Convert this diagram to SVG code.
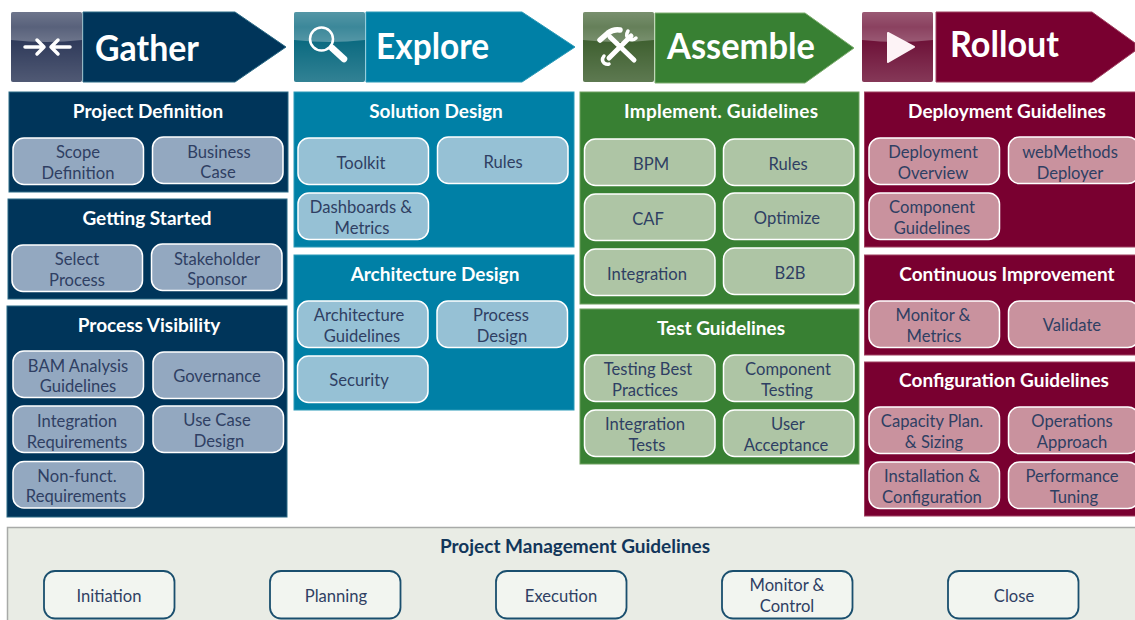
<svg xmlns="http://www.w3.org/2000/svg" width="1135" height="620" viewBox="0 0 1135 620">
<style>
text{font-family:"Lato","Noto Sans",sans-serif;text-anchor:middle}
.t{font-size:36px;font-weight:700;fill:#fff;text-anchor:start}
.h{font-size:19px;font-weight:700;fill:#fff}
.n{font-size:16.6px;fill:#2f3f63}
.nd{rx:11px;ry:11px;width:130.5px;height:46.5px;stroke:#fff;stroke-width:1.5px}
.b .nd{fill:#93a8c0}.e .nd{fill:#96c1d5}.g .nd{fill:#aec5a5}.r .nd{fill:#c9929e}
.p .nd{fill:#f2f5f0;stroke:#1a4f6e;stroke-width:1.8px;height:47.5px}
rect.pb{stroke:#2a6a85;stroke-width:1;fill:#00355a}
.e rect.pb{stroke:#2a9ab8;fill:#0080a6}
.g rect.pb{stroke:#6fa060;fill:#388033}
.r rect.pb{stroke:#a04060;fill:#790030}
.gl{fill:url(#gloss)}
.sh{fill:url(#shade)}
.ic{stroke:#fff;fill:none;stroke-linecap:round;stroke-linejoin:round}
</style>
<defs>
<linearGradient id="gloss" x1="0" y1="0" x2="0" y2="1"><stop offset="0" stop-color="#fff" stop-opacity=".3"/><stop offset=".5" stop-color="#fff" stop-opacity=".2"/><stop offset="1" stop-color="#fff" stop-opacity=".3"/></linearGradient>
<linearGradient id="shade" x1="0" y1="0" x2="0" y2="1"><stop offset="0" stop-color="#fff" stop-opacity="0"/><stop offset="1" stop-color="#fff" stop-opacity=".16"/></linearGradient>
</defs>

<g id="phase-gather">
<rect x="11" y="12" width="71" height="70" rx="2" fill="#2f3a5a"/>
<rect class="sh" x="11" y="40" width="71" height="42" rx="2"/>
<path class="gl" d="M11 14a2 2 0 0 1 2-2h67a2 2 0 0 1 2 2v26q-35 4 -71 0z"/>
<path class="ic" stroke-width="3.5" d="M25 47h19M37 40l7 7-7 7M70 47h-19M58 40l-7 7 7 7"/>
<polygon points="83,12 235,12 286,47 235,82 83,82" fill="#00355a" stroke="#2a6a85"/>
<text class="t" x="95" y="61" textLength="104" lengthAdjust="spacingAndGlyphs">Gather</text>
</g>
<g id="phase-explore">
<rect x="294" y="12" width="71" height="70" rx="2" fill="#0b6a80"/>
<rect class="sh" x="294" y="40" width="71" height="42" rx="2"/>
<path class="gl" d="M294 14a2 2 0 0 1 2-2h67a2 2 0 0 1 2 2v26q-35 4 -71 0z"/>
<circle class="ic" cx="321.500" cy="39" r="11.500" stroke="#b5dbe2" stroke-width="2.500"/>
<path class="ic" stroke="#e8f3f3" stroke-width="6.500" d="M332 48l12 11"/>
<polygon points="366,12 522,12 575,47 522,82 366,82" fill="#0080a6" stroke="#2a9ab8"/>
<text class="t" x="376" y="59" textLength="113" lengthAdjust="spacingAndGlyphs">Explore</text>
</g>
<g id="phase-assemble">
<rect x="583" y="12" width="71" height="70" rx="2" fill="#3f6030"/>
<rect class="sh" x="583" y="40" width="71" height="42" rx="2"/>
<path class="gl" d="M583 14a2 2 0 0 1 2-2h67a2 2 0 0 1 2 2v26q-35 4 -71 0z"/>
<path class="ic" stroke="#eef4e8" stroke-width="5" d="M610 37l24 23M631 36l-22 22"/>
<path class="ic" stroke="#eef4e8" stroke-width="5.500" d="M600 40l8 -7q5 -4 12 -3"/>
<path class="ic" stroke="#eef4e8" stroke-width="3.500" d="M628 31q-3 5 1 8q4 2 7 -1M604 56q-3 4 0 7q3 2 5 1"/>
<polygon points="655,13 805,13 854,48 805,83 655,83" fill="#388033" stroke="#7fae70"/>
<text class="t" x="667" y="59" textLength="148" lengthAdjust="spacingAndGlyphs">Assemble</text>
</g>
<g id="phase-rollout">
<rect x="862" y="12" width="71" height="70" rx="2" fill="#6e1238"/>
<rect class="sh" x="862" y="40" width="71" height="42" rx="2"/>
<path class="gl" d="M862 14a2 2 0 0 1 2-2h67a2 2 0 0 1 2 2v26q-35 4 -71 0z"/>
<polygon points="888,33 914,47 888,62" fill="#fdf3f6" stroke="#fdf3f6" stroke-width="2" stroke-linejoin="round"/>
<polygon points="936,12 1092,12 1135,43 1135,51 1092,82 936,82" fill="#790030" stroke="#a04060"/>
<text class="t" x="950" y="57" textLength="109" lengthAdjust="spacingAndGlyphs">Rollout</text>
</g>

<g id="project-definition" class="b">
<rect class="pb" x="9" y="92" width="279" height="100"/>
<text class="h" x="148" y="118">Project Definition</text>
<g id="scope-definition"><rect class="nd" x="13" y="138"/><text class="n" x="78" y="158">Scope</text><text class="n" x="78" y="179">Definition</text></g>
<g id="business-case"><rect class="nd" x="152.500" y="137"/><text class="n" x="219" y="158">Business</text><text class="n" x="218" y="178">Case</text></g>
</g>
<g id="getting-started" class="b">
<rect class="pb" x="8" y="199" width="279" height="100"/>
<text class="h" x="147" y="225">Getting Started</text>
<g id="select-process"><rect class="nd" x="12" y="245"/><text class="n" x="77" y="265">Select</text><text class="n" x="77" y="286">Process</text></g>
<g id="stakeholder-sponsor"><rect class="nd" x="151.500" y="244"/><text class="n" x="217" y="265">Stakeholder</text><text class="n" x="217" y="285">Sponsor</text></g>
</g>
<g id="process-visibility" class="b">
<rect class="pb" x="7" y="306" width="280" height="211"/>
<text class="h" x="149" y="332">Process Visibility</text>
<g id="bam"><rect class="nd" x="13" y="351"/><text class="n" x="78" y="372">BAM Analysis</text><text class="n" x="78" y="392">Guidelines</text></g>
<g id="governance"><rect class="nd" x="153" y="352"/><text class="n" x="217" y="382">Governance</text></g>
<g id="integration-req"><rect class="nd" x="13" y="406"/><text class="n" x="77" y="427">Integration</text><text class="n" x="77" y="448">Requirements</text></g>
<g id="use-case"><rect class="nd" x="153" y="406"/><text class="n" x="217" y="426">Use Case</text><text class="n" x="219" y="447">Design</text></g>
<g id="non-funct"><rect class="nd" x="13" y="461.500"/><text class="n" x="77" y="482">Non-funct.</text><text class="n" x="76" y="502">Requirements</text></g>
</g>

<g id="solution-design" class="e">
<rect class="pb" x="294" y="92" width="280" height="155"/>
<text class="h" x="436" y="118">Solution Design</text>
<g id="toolkit"><rect class="nd" x="298" y="138"/><text class="n" x="361" y="169">Toolkit</text></g>
<g id="rules-e"><rect class="nd" x="437.500" y="137"/><text class="n" x="503" y="168">Rules</text></g>
<g id="dashboards"><rect class="nd" x="298" y="193"/><text class="n" x="361" y="213">Dashboards &amp;</text><text class="n" x="362" y="234">Metrics</text></g>
</g>
<g id="architecture-design" class="e">
<rect class="pb" x="294" y="255" width="280" height="155"/>
<text class="h" x="435" y="281">Architecture Design</text>
<g id="arch-guidelines"><rect class="nd" x="297.500" y="301"/><text class="n" x="359" y="321">Architecture</text><text class="n" x="362" y="342">Guidelines</text></g>
<g id="process-design"><rect class="nd" x="437" y="301"/><text class="n" x="501" y="321">Process</text><text class="n" x="502" y="342">Design</text></g>
<g id="security"><rect class="nd" x="297.500" y="356"/><text class="n" x="359" y="386">Security</text></g>
</g>

<g id="implement-guidelines" class="g">
<rect class="pb" x="580" y="92" width="279" height="212"/>
<text class="h" x="721" y="118" textLength="194" lengthAdjust="spacing">Implement. Guidelines</text>
<g id="bpm"><rect class="nd" x="584.500" y="139"/><text class="n" x="651" y="170">BPM</text></g>
<g id="rules-g"><rect class="nd" x="723.500" y="139"/><text class="n" x="788" y="170">Rules</text></g>
<g id="caf"><rect class="nd" x="584.500" y="194"/><text class="n" x="648" y="225">CAF</text></g>
<g id="optimize"><rect class="nd" x="723.500" y="193"/><text class="n" x="787" y="224">Optimize</text></g>
<g id="integration"><rect class="nd" x="584.500" y="249"/><text class="n" x="647" y="280">Integration</text></g>
<g id="b2b"><rect class="nd" x="723.500" y="248"/><text class="n" x="790" y="279">B2B</text></g>
</g>
<g id="test-guidelines" class="g">
<rect class="pb" x="580" y="309" width="279" height="155"/>
<text class="h" x="721" y="335">Test Guidelines</text>
<g id="testing-best"><rect class="nd" x="584.500" y="355"/><text class="n" x="648" y="375">Testing Best</text><text class="n" x="645" y="396">Practices</text></g>
<g id="component-testing"><rect class="nd" x="723.500" y="355"/><text class="n" x="788" y="375">Component</text><text class="n" x="787" y="396">Testing</text></g>
<g id="integration-tests"><rect class="nd" x="584.500" y="410"/><text class="n" x="645" y="430">Integration</text><text class="n" x="647" y="451">Tests</text></g>
<g id="user-acceptance"><rect class="nd" x="723.500" y="410"/><text class="n" x="788" y="430">User</text><text class="n" x="786" y="451">Acceptance</text></g>
</g>

<g id="deployment-guidelines" class="r">
<rect class="pb" x="864.500" y="92" width="280" height="155"/>
<text class="h" x="1007" y="118">Deployment Guidelines</text>
<g id="deployment-overview"><rect class="nd" x="869" y="138"/><text class="n" x="933" y="158">Deployment</text><text class="n" x="933" y="179">Overview</text></g>
<g id="deployer"><rect class="nd" x="1008.500" y="137"/><text class="n" x="1070" y="158">webMethods</text><text class="n" x="1070" y="179">Deployer</text></g>
<g id="component-guidelines"><rect class="nd" x="869" y="193"/><text class="n" x="932" y="213">Component</text><text class="n" x="932" y="234">Guidelines</text></g>
</g>
<g id="continuous-improvement" class="r">
<rect class="pb" x="864.500" y="255" width="280" height="100"/>
<text class="h" x="1007" y="281">Continuous Improvement</text>
<g id="monitor-metrics"><rect class="nd" x="869" y="301"/><text class="n" x="933" y="321">Monitor &amp;</text><text class="n" x="934" y="342">Metrics</text></g>
<g id="validate"><rect class="nd" x="1008.500" y="301"/><text class="n" x="1072" y="331">Validate</text></g>
</g>
<g id="configuration-guidelines" class="r">
<rect class="pb" x="864.500" y="362" width="280" height="154"/>
<text class="h" x="1004" y="387">Configuration Guidelines</text>
<g id="capacity"><rect class="nd" x="869" y="407"/><text class="n" x="932" y="427">Capacity Plan.</text><text class="n" x="934" y="448">&amp; Sizing</text></g>
<g id="operations"><rect class="nd" x="1008.500" y="407"/><text class="n" x="1072" y="427">Operations</text><text class="n" x="1072" y="448">Approach</text></g>
<g id="installation"><rect class="nd" x="869" y="462"/><text class="n" x="932" y="482">Installation &amp;</text><text class="n" x="932" y="503">Configuration</text></g>
<g id="performance"><rect class="nd" x="1008.500" y="462"/><text class="n" x="1072" y="482">Performance</text><text class="n" x="1074" y="503">Tuning</text></g>
</g>

<g id="project-management" class="p">
<rect x="7.500" y="527.500" width="1140" height="100" fill="#e9ece5" stroke="#a8aaa8" stroke-width="1.500"/>
<text class="h" x="575" y="553" style="fill:#12365a">Project Management Guidelines</text>
<g id="initiation"><rect class="nd" x="44" y="571"/><text class="n" x="109" y="602">Initiation</text></g>
<g id="planning"><rect class="nd" x="270" y="571"/><text class="n" x="336" y="602">Planning</text></g>
<g id="execution"><rect class="nd" x="496" y="571"/><text class="n" x="561" y="602">Execution</text></g>
<g id="monitor-control"><rect class="nd" x="722" y="571"/><text class="n" x="787" y="591">Monitor &amp;</text><text class="n" x="787" y="612">Control</text></g>
<g id="close"><rect class="nd" x="948" y="571"/><text class="n" x="1014" y="602">Close</text></g>
</g>
</svg>
